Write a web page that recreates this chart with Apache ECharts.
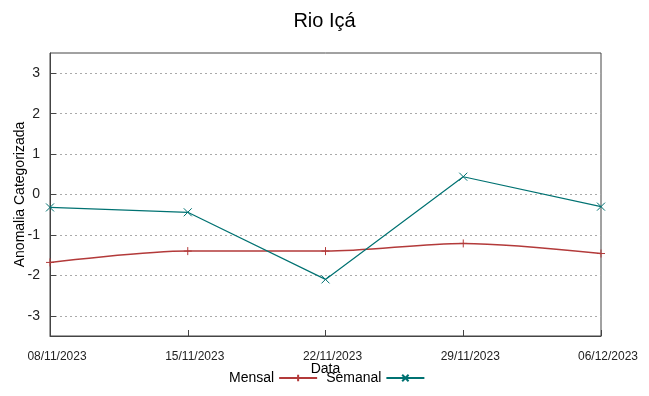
<!DOCTYPE html>
<html>
<head>
<meta charset="utf-8">
<script src="https://cdn.jsdelivr.net/npm/echarts@6/dist/echarts.min.js"></script>
<style>
    html, body { margin: 0; padding: 0; background: #fff; }
    #chart { width: 649px; height: 396px; }
</style>
</head>
<body>
<div id="chart"></div>
<script>
var datas = ['08/11/2023', '15/11/2023', '22/11/2023', '29/11/2023', '06/12/2023'];
var mensal = [-1.68, -1.40, -1.40, -1.21, -1.46];
var semanal = [-0.32, -0.44, -2.10, 0.44, -0.30];
var yTicks = [-3, -2, -1, 0, 1, 2, 3];

var plusSymbol = 'path://M5,0L5,10M0,5L10,5';
var crossSymbol = 'path://M0,0L10,10M10,0L0,10';

var myChart = echarts.init(document.getElementById('chart'));
var option = {
    backgroundColor: '#fff',
    animation: false,
    textStyle: { fontFamily: 'Liberation Sans' },
    title: {
        text: 'Rio Içá',
        left: 'center',
        top: 6,
        textStyle: { fontSize: 20, fontWeight: 'normal', color: '#000' }
    },
    legend: {
        bottom: 6,
        left: 224,
        align: 'right',
        itemWidth: 38,
        itemHeight: 8,
        itemGap: 8,
        textStyle: { fontSize: 14, color: '#000' },
        data: ['Mensal', 'Semanal']
    },
    grid: {
        left: 50,
        right: 48,
        top: 53,
        bottom: 60,
        outerBoundsMode: 'none',
        containLabel: false,
        show: true,
        borderColor: '#444',
        borderWidth: 1
    },
    xAxis: {
        type: 'category',
        boundaryGap: false,
        data: datas,
        name: 'Data',
        nameLocation: 'middle',
        nameGap: 26,
        nameMoveOverlap: false,
        nameTextStyle: { fontSize: 14, color: '#000' },
        axisLine: { onZero: false, lineStyle: { color: '#444' } },
        axisTick: { inside: true, length: 6, lineStyle: { color: '#444' } },
        axisLabel: { fontSize: 12, color: '#222', margin: 15, padding: [0, 0, 0, 14] },
        splitLine: { show: false }
    },
    yAxis: {
        type: 'value',
        min: -3.5,
        max: 3.5,
        name: 'Anomalia Categorizada',
        nameLocation: 'middle',
        nameGap: 23,
        nameMoveOverlap: false,
        nameTextStyle: { fontSize: 14, color: '#000' },
        axisLine: { show: true, lineStyle: { color: '#444' } },
        axisTick: { show: true, inside: true, length: 6, lineStyle: { color: '#444' }, customValues: yTicks },
        axisLabel: { fontSize: 14, color: '#222', margin: 10, customValues: yTicks },
        splitLine: { show: true, lineStyle: { color: '#aaa', type: [2, 3] } },
        splitNumber: 7
    },
    series: [
        {
            name: 'Mensal',
            type: 'line',
            data: mensal,
            smooth: 0.3,
            symbol: plusSymbol,
            symbolSize: 8,
            showAllSymbol: true,
            lineStyle: { color: '#b33a3a', width: 1.5 },
            itemStyle: { color: '#b33a3a', borderColor: '#b33a3a', borderWidth: 1 }
        },
        {
            name: 'Semanal',
            type: 'line',
            data: semanal,
            symbol: crossSymbol,
            symbolSize: 8,
            showAllSymbol: true,
            lineStyle: { color: '#007272', width: 1.2 },
            itemStyle: { color: '#007272', borderColor: '#007272', borderWidth: 1 }
        }
    ]
};
myChart.setOption(option);
</script>
</body>
</html>
